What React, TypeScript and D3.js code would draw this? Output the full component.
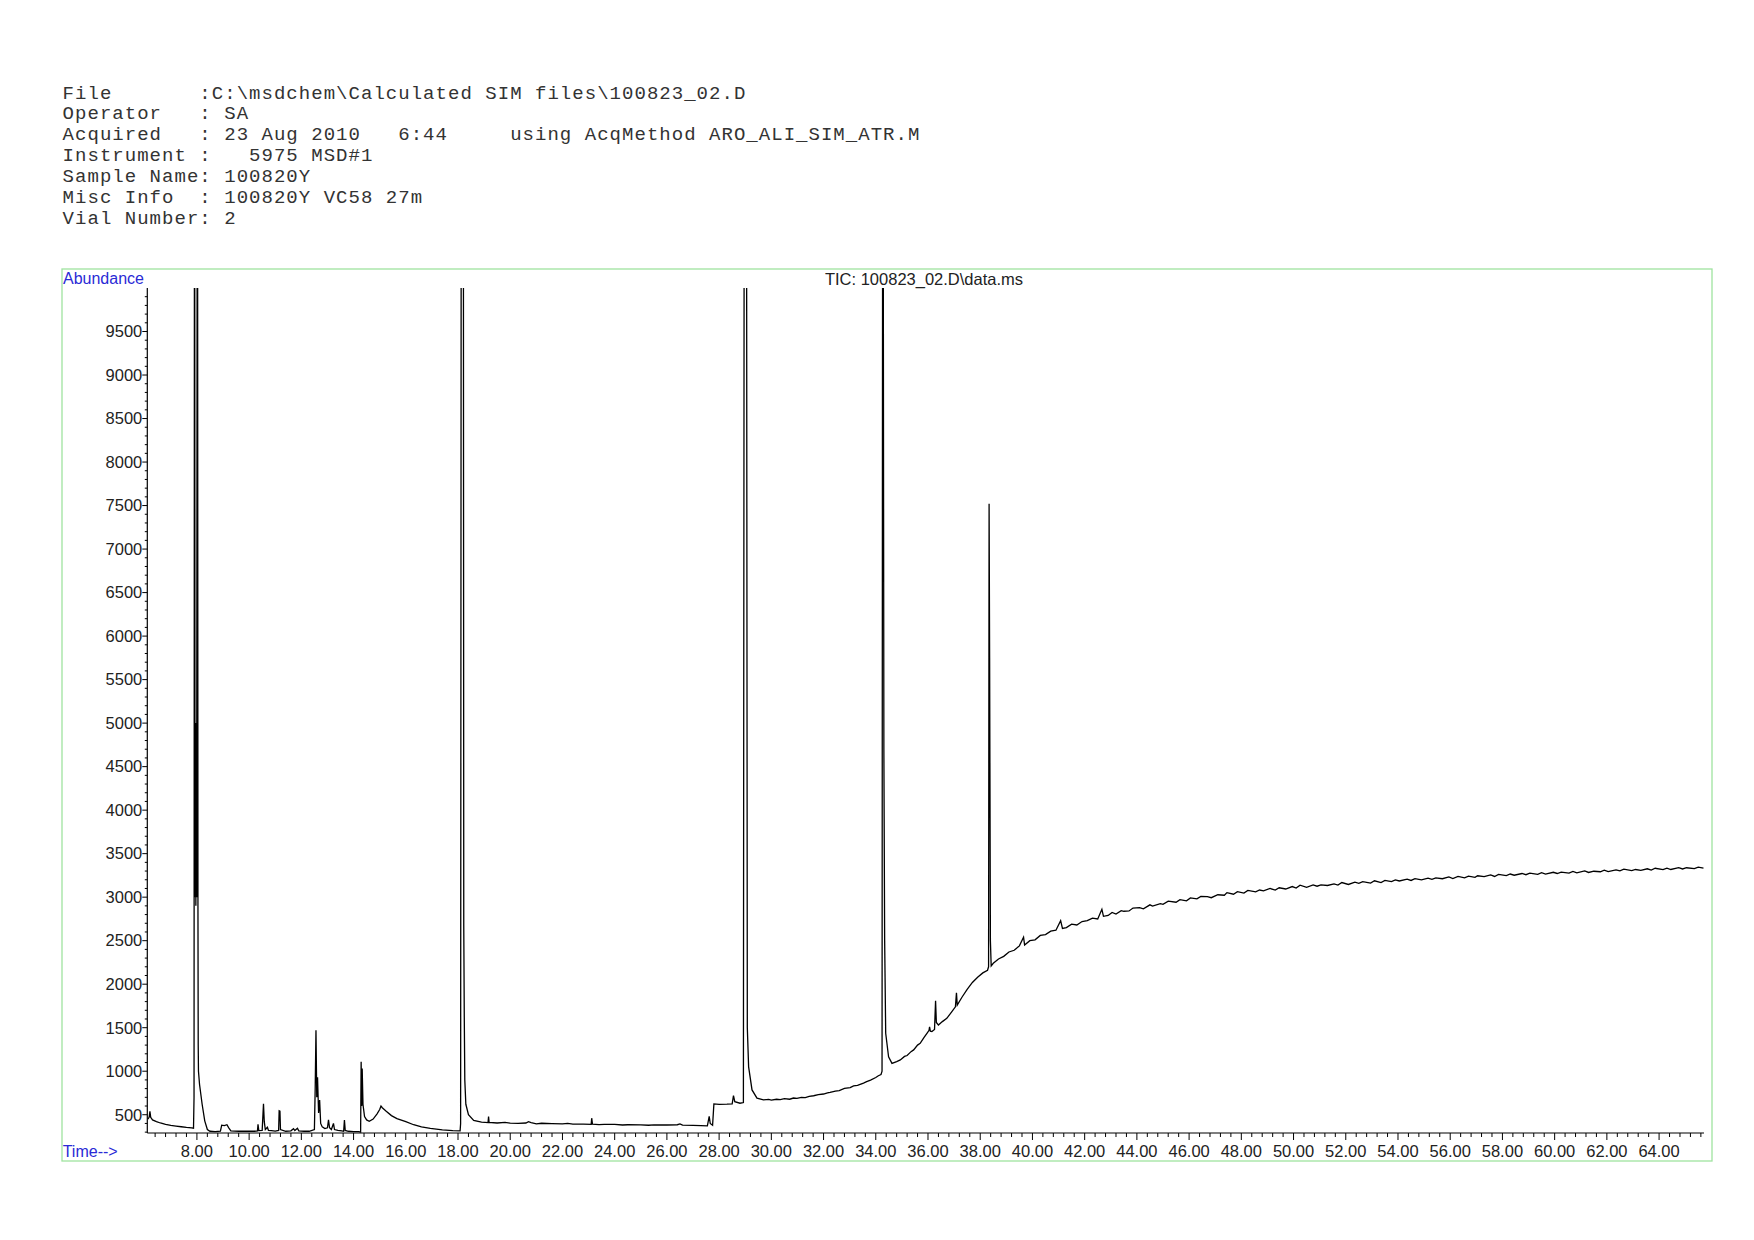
import React from "react";
import * as d3 from "d3";

// ---------- header text ----------
const headerLines: string[] = [
  "File       :C:\\msdchem\\Calculated SIM files\\100823_02.D",
  "Operator   : SA",
  "Acquired   : 23 Aug 2010   6:44     using AcqMethod ARO_ALI_SIM_ATR.M",
  "Instrument :   5975 MSD#1",
  "Sample Name: 100820Y",
  "Misc Info  : 100820Y VC58 27m",
  "Vial Number: 2",
];

const chartTitle = "TIC: 100823_02.D\\data.ms";
const yAxisTitle = "Abundance";
const xAxisTitle = "Time-->";

// ---------- axis ticks ----------
const yTickValues: number[] = [500, 1000, 1500, 2000, 2500, 3000, 3500, 4000, 4500, 5000, 5500, 6000, 6500, 7000, 7500, 8000, 8500, 9000, 9500];
const xTickValues: number[] = [8, 10, 12, 14, 16, 18, 20, 22, 24, 26, 28, 30, 32, 34, 36, 38, 40, 42, 44, 46, 48, 50, 52, 54, 56, 58, 60, 62, 64];
const timeDomain: [number, number] = [6.1, 65.72];
const abundanceDomain: [number, number] = [290, 10000];

// ---------- TIC trace (time min, abundance) ----------
const earlyTrace: [number, number][] = [
  [6.12, 450], [6.17, 470], [6.2, 540], [6.23, 470], [6.3, 440], [6.45, 420], [6.6, 405], [6.8, 390],
  [7.0, 378], [7.2, 370], [7.4, 362], [7.6, 355], [7.8, 350], [7.87, 345], [7.89, 700], [7.91, 15000],
  [7.925, 5000], [7.94, 3000], [7.95, 5000], [7.96, 2900], [7.975, 5000], [7.99, 3000], [8.02, 15000],
  [8.04, 2900], [8.05, 1300], [8.06, 1000], [8.1, 850], [8.2, 620], [8.3, 430], [8.4, 330], [8.5, 310],
  [8.7, 305], [8.9, 310], [8.95, 380], [9.05, 375], [9.15, 385], [9.22, 350], [9.3, 315], [9.6, 310],
  [9.9, 312], [10.2, 310], [10.32, 315], [10.34, 390], [10.37, 318], [10.5, 320], [10.55, 625], [10.58, 420],
  [10.62, 330], [10.7, 355], [10.74, 320], [10.85, 318], [11.0, 312], [11.13, 320], [11.15, 545], [11.18, 540],
  [11.2, 330], [11.4, 310], [11.6, 315], [11.7, 340], [11.75, 318], [11.85, 345], [11.9, 315], [12.1, 310],
  [12.3, 310], [12.5, 330], [12.53, 800], [12.56, 1470], [12.59, 700], [12.62, 930], [12.66, 520], [12.7, 670],
  [12.74, 400], [12.8, 360], [12.9, 340], [13.0, 350], [13.04, 440], [13.08, 350], [13.15, 330], [13.23, 400],
  [13.27, 330], [13.4, 320], [13.55, 315], [13.62, 310], [13.65, 440], [13.68, 320], [13.8, 310], [14.0, 305],
  [14.2, 305], [14.27, 300], [14.29, 1110], [14.31, 600], [14.33, 1030], [14.36, 620], [14.42, 480], [14.5, 440],
  [14.6, 425], [14.75, 450], [14.9, 510], [15.0, 560], [15.05, 600], [15.1, 580], [15.25, 540], [15.45, 490],
  [15.66, 455], [16.0, 420], [16.3, 385], [16.6, 360], [16.94, 343], [17.4, 325], [17.8, 318], [18.08, 315],
];

const middleTrace: [number, number][] = [
  [18.1, 400], [18.13, 15000], [18.2, 15000], [18.22, 2680], [18.24, 1620], [18.26, 900], [18.3, 620],
  [18.4, 500], [18.6, 435], [18.9, 415], [19.15, 410], [19.17, 480], [19.19, 412], [19.5, 405], [19.8, 412],
  [20.0, 404], [20.3, 400], [20.6, 405], [20.7, 420], [20.8, 410], [21.0, 396], [21.2, 402], [21.6, 398],
  [22.0, 395], [22.2, 400], [22.4, 393], [22.8, 392], [23.1, 390], [23.12, 460], [23.15, 392], [23.4, 386],
  [23.6, 390], [24.0, 388], [24.3, 382], [24.5, 385], [25.0, 383], [25.3, 379], [25.5, 384], [26.0, 382],
  [26.4, 385], [26.5, 395], [26.6, 380], [27.0, 378], [27.3, 375], [27.55, 372], [27.62, 480], [27.66, 400],
  [27.75, 380], [27.8, 625], [28.0, 620], [28.3, 622], [28.5, 625], [28.55, 720], [28.6, 650], [28.8, 632],
  [28.93, 640], [28.97, 15000], [29.04, 15000], [29.08, 1500], [29.13, 1050], [29.26, 785], [29.45, 690],
  [29.7, 670], [29.9, 676], [30.0, 668], [30.2, 678], [30.34, 674], [30.5, 684], [30.7, 678], [30.85, 692],
  [30.98, 688], [31.15, 700], [31.3, 696], [31.45, 712], [31.62, 718], [31.8, 732], [32.0, 738], [32.15, 752],
  [32.25, 756], [32.45, 772], [32.6, 778], [32.8, 802], [33.02, 812], [33.15, 832], [33.3, 838], [33.53, 864],
  [33.65, 880], [33.8, 898], [34.0, 928], [34.1, 948], [34.2, 962], [34.24, 1000], [34.27, 15000],
  [34.31, 4700], [34.34, 2500], [34.38, 1436], [34.49, 1166], [34.62, 1090], [34.8, 1110], [34.94, 1130],
  [35.1, 1170], [35.2, 1180], [35.35, 1225], [35.45, 1245], [35.6, 1300], [35.7, 1320], [35.85, 1390],
  [35.96, 1436], [36.04, 1470], [36.06, 1510], [36.09, 1460], [36.15, 1455], [36.25, 1480], [36.29, 1810],
  [36.32, 1560], [36.4, 1531], [36.55, 1570], [36.72, 1608], [36.9, 1680], [37.05, 1740], [37.09, 1900],
  [37.12, 1760], [37.3, 1850], [37.5, 1940], [37.7, 2020], [37.9, 2080], [38.1, 2130], [38.28, 2160],
  [38.32, 2200], [38.34, 7520], [38.36, 5750], [38.39, 2500], [38.42, 2210],
];

const lateTrace: [number, number][] = [
  [38.5, 2240], [38.7, 2290], [38.9, 2320], [39.1, 2370], [39.3, 2390], [39.5, 2440], [39.66, 2540],
  [39.7, 2450], [39.9, 2500], [40.1, 2510], [40.3, 2560], [40.5, 2570], [40.7, 2610], [40.9, 2620],
  [41.08, 2730], [41.15, 2640], [41.3, 2650], [41.5, 2690], [41.7, 2680], [41.9, 2720], [42.1, 2730],
  [42.3, 2760], [42.5, 2750], [42.66, 2860], [42.72, 2780], [42.9, 2790], [43.05, 2825], [43.2, 2805],
  [43.4, 2845], [43.5, 2838], [43.7, 2842], [43.85, 2875], [44.1, 2880], [44.25, 2866], [44.5, 2912],
  [44.6, 2898], [44.9, 2925], [45.0, 2918], [45.2, 2955], [45.5, 2942], [45.65, 2972], [45.9, 2958],
  [46.05, 2992], [46.3, 2980], [46.45, 3008], [46.7, 3006], [46.85, 2994], [47.1, 3028], [47.35, 3022],
  [47.45, 3052], [47.7, 3034], [47.85, 3064], [48.1, 3047], [48.25, 3078], [48.55, 3062], [48.7, 3082],
  [48.85, 3072], [49.1, 3100], [49.3, 3082], [49.45, 3108], [49.7, 3094], [49.95, 3122], [50.1, 3104],
  [50.25, 3138], [50.5, 3112], [50.75, 3140], [50.9, 3126], [51.05, 3142], [51.3, 3134], [51.55, 3152],
  [51.7, 3138], [51.85, 3168], [52.1, 3146], [52.35, 3172], [52.5, 3158], [52.65, 3178], [52.95, 3162],
  [53.1, 3188], [53.35, 3168], [53.5, 3192], [53.75, 3178], [53.9, 3198], [54.05, 3186], [54.35, 3206],
  [54.5, 3192], [54.65, 3212], [54.9, 3198], [55.15, 3218], [55.3, 3204], [55.45, 3222], [55.7, 3212],
  [55.95, 3232], [56.1, 3214], [56.3, 3238], [56.55, 3222], [56.7, 3242], [56.95, 3228], [57.05, 3246],
  [57.3, 3236], [57.55, 3256], [57.7, 3238], [57.85, 3262], [58.15, 3248], [58.3, 3266], [58.45, 3252],
  [58.75, 3272], [58.9, 3258], [59.05, 3276], [59.35, 3262], [59.5, 3282], [59.65, 3266], [59.95, 3286],
  [60.1, 3272], [60.25, 3288], [60.55, 3276], [60.7, 3296], [60.85, 3280], [61.15, 3302], [61.3, 3284],
  [61.5, 3298], [61.75, 3292], [61.9, 3310], [62.05, 3294], [62.35, 3314], [62.5, 3302], [62.65, 3322],
  [62.95, 3306], [63.1, 3318], [63.3, 3308], [63.55, 3326], [63.7, 3312], [63.85, 3332], [64.15, 3316],
  [64.3, 3334], [64.45, 3318], [64.75, 3340], [64.9, 3324], [65.05, 3338], [65.35, 3328], [65.5, 3344],
  [65.7, 3334],
];

// ---------- layout ----------
const W = 1754;
const H = 1240;
const plotLeft = 147.3;
const plotRight = 1704;
const plotTop = 288;
const plotBottom = 1133;

export default function App() {
  const x = d3.scaleLinear().domain(timeDomain).range([plotLeft, plotRight]);
  const y = d3.scaleLinear().domain(abundanceDomain).range([plotBottom, plotTop]);

  const trace = [...earlyTrace, ...middleTrace, ...lateTrace];
  const line = d3
    .line<[number, number]>()
    .x((d) => x(d[0]))
    .y((d) => y(d[1]));

  const yMinor = d3.range(300, 10001, 100).filter((v) => v % 500 !== 0);
  const xMinor = d3.range(6.4, 65.7, 0.4).filter((v) => Math.abs(v / 2 - Math.round(v / 2)) > 0.01);

  const labelFont = "'Liberation Sans', Arial, sans-serif";
  const monoFont = "'Liberation Mono', 'Courier New', monospace";
  const blue = "#2a2ad6";

  return (
    <svg
      width={W}
      height={H}
      viewBox={`0 0 ${W} ${H}`}
      style={{ position: "absolute", left: 0, top: 0, background: "#fff" }}
    >
      <rect x={0} y={0} width={W} height={H} fill="#fff" />
      <defs>
        <clipPath id="plotClip">
          <rect x={plotLeft} y={plotTop} width={plotRight - plotLeft} height={plotBottom - plotTop} />
        </clipPath>
      </defs>

      {/* header */}
      {headerLines.map((t, i) => (
        <text
          key={i}
          x={62.6}
          y={98.5 + i * 20.9}
          fontFamily={monoFont}
          fontSize={19}
          letterSpacing={1.03}
          fill="#333"
          style={{ whiteSpace: "pre" }}
        >
          {t}
        </text>
      ))}

      {/* frame */}
      <rect x={62} y={269} width={1650} height={892} fill="none" stroke="#9fe39f" strokeWidth={1.3} />

      <text x={63} y={284} fontFamily={labelFont} fontSize={16} fill={blue}>
        {yAxisTitle}
      </text>
      <text x={924} y={285} fontFamily={labelFont} fontSize={16.5} fill="#222" textAnchor="middle">
        {chartTitle}
      </text>
      <text x={62.7} y={1156.5} fontFamily={labelFont} fontSize={16} fill={blue}>
        {xAxisTitle}
      </text>

      {/* y axis */}
      <line x1={plotLeft} x2={plotLeft} y1={plotTop} y2={plotBottom} stroke="#000" strokeWidth={1.2} />
      {yMinor.map((v) => (
        <line key={"ym" + v} x1={plotLeft - 2.5} x2={plotLeft} y1={y(v)} y2={y(v)} stroke="#000" strokeWidth={1} />
      ))}
      {yTickValues.map((v) => (
        <g key={"y" + v}>
          <line x1={plotLeft - 5} x2={plotLeft} y1={y(v)} y2={y(v)} stroke="#000" strokeWidth={1} />
          <text x={plotLeft - 5} y={y(v) + 5.8} fontFamily={labelFont} fontSize={16.5} fill="#222" textAnchor="end">
            {v}
          </text>
        </g>
      ))}

      {/* x axis */}
      <line x1={plotLeft} x2={plotRight} y1={plotBottom} y2={plotBottom} stroke="#000" strokeWidth={1.2} />
      {xMinor.map((v) => (
        <line key={"xm" + v.toFixed(1)} x1={x(v)} x2={x(v)} y1={plotBottom} y2={plotBottom + 4} stroke="#000" strokeWidth={1} />
      ))}
      {xTickValues.map((v) => (
        <g key={"x" + v}>
          <line x1={x(v)} x2={x(v)} y1={plotBottom} y2={plotBottom + 7} stroke="#000" strokeWidth={1} />
          <text x={x(v)} y={1157} fontFamily={labelFont} fontSize={16.5} fill="#222" textAnchor="middle">
            {v.toFixed(2)}
          </text>
        </g>
      ))}

      {/* trace */}
      <path d={line(trace) || ""} fill="none" stroke="#000" strokeWidth={1.3} clipPath="url(#plotClip)" />
    </svg>
  );
}
